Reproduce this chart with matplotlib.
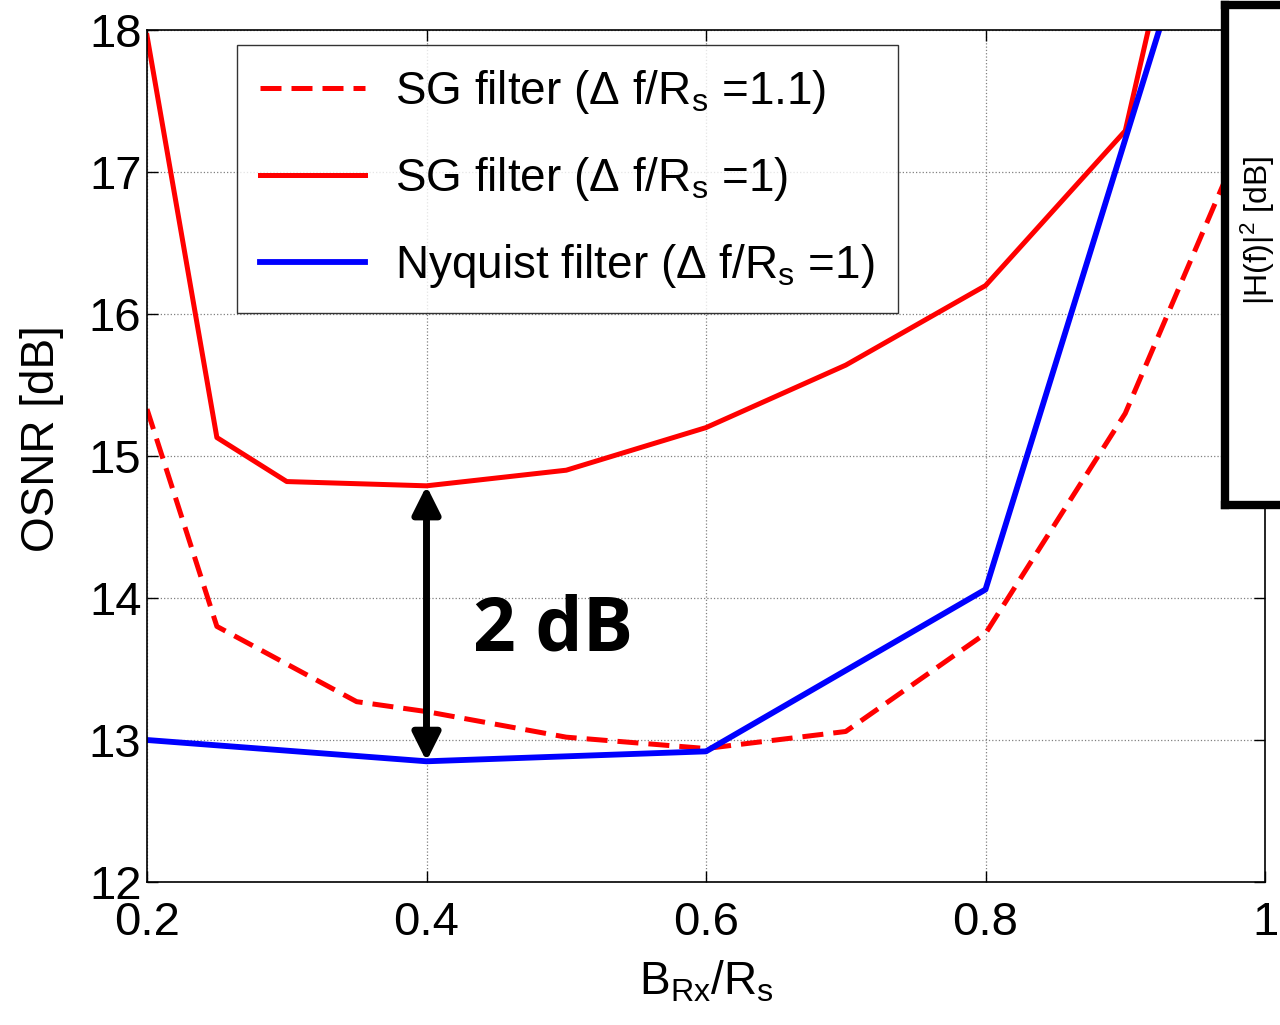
import matplotlib
matplotlib.use("Agg")
import matplotlib.pyplot as plt

plt.rcParams['font.family'] = ['Liberation Sans', 'DejaVu Sans']
plt.rcParams['mathtext.fontset'] = 'custom'
plt.rcParams['mathtext.rm'] = 'Liberation Sans'
plt.rcParams['mathtext.it'] = 'Liberation Sans:italic'

# data
x_sg11 = [0.2, 0.25, 0.35, 0.4, 0.5, 0.6, 0.7, 0.8, 0.9, 1.0]
y_sg11 = [15.33, 13.8, 13.27, 13.2, 13.02, 12.94, 13.06, 13.75, 15.3, 17.6]

x_sg1 = [0.2, 0.25, 0.3, 0.4, 0.5, 0.6, 0.7, 0.8, 0.9, 1.0]
y_sg1 = [17.96, 15.13, 14.82, 14.79, 14.9, 15.2, 15.64, 16.2, 17.29, 21.6]

x_nyq = [0.2, 0.4, 0.6, 0.8, 1.0]
y_nyq = [13.0, 12.85, 12.92, 14.06, 20.4]

labels = [r'SG filter ($\Delta$ f/R$_{\mathrm{s}}$ =1.1)',
          r'SG filter ($\Delta$ f/R$_{\mathrm{s}}$ =1)',
          r'Nyquist filter ($\Delta$ f/R$_{\mathrm{s}}$ =1)']
xticks = [0.2, 0.4, 0.6, 0.8, 1.0]
xticklabels = ['0.2', '0.4', '0.6', '0.8', '1']
yticks = [12, 13, 14, 15, 16, 17, 18]
gap_text = '2 dB'

fig = plt.figure(figsize=(12.8, 10.25), dpi=100)
ax = fig.add_axes([147 / 1280, 1 - 882 / 1025, 1118 / 1280, 852 / 1025])

ax.plot(x_sg11, y_sg11, color='red', lw=3.6, ls=(0, (4.2, 2.0)), label=labels[0])
ax.plot(x_sg1, y_sg1, color='red', lw=3.6, label=labels[1])
ax.plot(x_nyq, y_nyq, color='blue', lw=4.2, label=labels[2])

ax.set_xlim(0.2, 1.0)
ax.set_ylim(12, 18)
ax.set_xticks(xticks)
ax.set_xticklabels(xticklabels)
ax.set_yticks(yticks)
ax.tick_params(direction='in', top=True, right=True, labelsize=34, length=8, width=1)
ax.tick_params(axis='x', pad=14)
ax.tick_params(axis='y', pad=4)
ax.grid(True, color='#808080', ls=':', lw=0.9)
for s in ax.spines.values():
    s.set_linewidth(1.2)

ax.set_ylabel('OSNR [dB]', fontsize=33, labelpad=18, y=0.52)
ax.set_xlabel(r'B$_{\mathrm{Rx}}$/R$_{\mathrm{s}}$', fontsize=33, labelpad=10)

# 2 dB double arrow
ax.annotate('', xy=(0.4, y_nyq[1]), xytext=(0.4, y_sg1[3]),
            arrowprops=dict(arrowstyle='<|-|>', color='black', lw=5,
                            mutation_scale=42, shrinkA=0, shrinkB=0))
ax.text(0.4903, 13.77, gap_text, fontsize=54, fontweight='bold',
        family='Open Sans', ha='center', va='center')

leg = ax.legend(loc='upper left', bbox_to_anchor=(0.0805, 0.982), borderaxespad=0,
                fontsize=33, frameon=True, fancybox=False, edgecolor='black',
                handlelength=2.3, handletextpad=0.65, labelspacing=0.85,
                borderpad=0.5)
leg.get_frame().set_linewidth(1.0)

# partly visible inset on the right edge
ins = fig.add_axes([1225 / 1280, 1 - 505 / 1025, 0.1, 500 / 1025])
ins.set_xticks([])
ins.set_yticks([])
for s in ins.spines.values():
    s.set_linewidth(6)
ins.text(0.26, 0.55, r'|H(f)|$^2$ [dB]', rotation=90, fontsize=23,
         transform=ins.transAxes, ha='center', va='center')

fig.savefig('out.png', dpi=100)
